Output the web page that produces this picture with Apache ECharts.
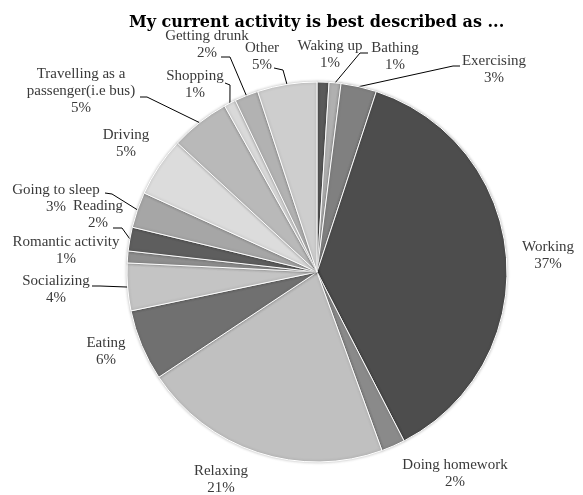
<!DOCTYPE html>
<html>
<head>
<meta charset="utf-8">
<script src="https://cdn.jsdelivr.net/npm/echarts@6/dist/echarts.min.js"></script>
<style>
  html, body { margin: 0; padding: 0; background: #fff; }
  #chart { width: 583px; height: 495px; }
</style>
</head>
<body>
<div id="chart"></div>
<script>
// Activities, clockwise from twelve o'clock
const activities = [
  'Waking up', 'Bathing', 'Exercising', 'Working', 'Doing homework',
  'Relaxing', 'Eating', 'Socializing', 'Romantic activity', 'Reading',
  'Going to sleep', 'Driving', 'Travelling as a\npassenger(i.e bus)',
  'Shopping', 'Getting drunk', 'Other'
];
// Share of responses, percent
const shares = [1, 1, 3, 37, 2, 21, 6, 4, 1, 2, 3, 5, 5, 1, 2, 5];

// Grey shade of each slice
const sliceColors = [
  '#5a5a5a', '#b0b0b0', '#808080', '#4d4d4d', '#8a8a8a',
  '#c0c0c0', '#707070', '#c4c4c4', '#8e8e8e', '#5e5e5e',
  '#a6a6a6', '#dcdcdc', '#b9b9b9', '#d9d9d9', '#b2b2b2', '#cecece'
];

// Where each label block is centred, and the leader line bend (none = no line)
const labelSpots = [
  { at: [330, 55] },
  { at: [395, 57], bend: [[360, 53], [368, 53]] },
  { at: [494, 70], bend: [[453, 66], [460, 66]] },
  { at: [548, 256] },
  { at: [455, 474] },
  { at: [221, 480] },
  { at: [106, 352] },
  { at: [56, 290], bend: [[100, 286], [92, 286]] },
  { at: [66, 251] },
  { at: [98, 215], bend: [[122, 228], [113, 228]] },
  { at: [56, 199], bend: [[112, 194], [105, 193]] },
  { at: [126, 144] },
  { at: [81, 91], bend: [[147, 97], [140, 97]] },
  { at: [195, 85], bend: [[230, 85], [225, 83]] },
  { at: [207, 45], bend: [[230, 57], [221, 57]] },
  { at: [262, 57], bend: [[283, 70], [274, 68]] }
];

const chart = echarts.init(document.getElementById('chart'), null, { renderer: 'canvas' });

const seriesData = activities.map((name, i) => ({
  name: name,
  value: shares[i],
  itemStyle: { color: sliceColors[i] },
  labelLine: { show: !!labelSpots[i].bend }
}));

chart.setOption({
  animation: false,
  backgroundColor: '#ffffff',
  title: {
    text: 'My current activity is best described as ...',
    left: 124,
    top: 10,
    textStyle: {
      fontFamily: 'DejaVu Serif',
      fontWeight: 'bold',
      fontSize: 16,
      color: '#000000'
    }
  },
  series: [{
    type: 'pie',
    center: [317, 272],
    radius: [0, 190],
    startAngle: 90,
    clockwise: true,
    data: seriesData,
    avoidLabelOverlap: false,
    itemStyle: {
      borderColor: '#ffffff',
      borderWidth: 1,
      shadowColor: 'rgba(0,0,0,0.25)',
      shadowBlur: 3
    },
    label: {
      show: true,
      position: 'outside',
      fontFamily: 'Liberation Serif',
      fontSize: 15,
      lineHeight: 17,
      color: '#3a3a3a',
      formatter: p => p.name + '\n' + p.value + '%'
    },
    labelLine: {
      show: true,
      length: 10,
      length2: 10,
      smooth: false,
      lineStyle: { color: '#000000', width: 1 }
    },
    labelLayout: params => {
      const spot = labelSpots[params.dataIndex];
      const out = {
        x: spot.at[0],
        y: spot.at[1],
        align: 'center',
        verticalAlign: 'middle'
      };
      if (spot.bend && params.labelLinePoints) {
        out.labelLinePoints = [
          params.labelLinePoints[0],
          spot.bend[0],
          spot.bend[1]
        ];
      }
      return out;
    }
  }]
});
</script>
</body>
</html>
